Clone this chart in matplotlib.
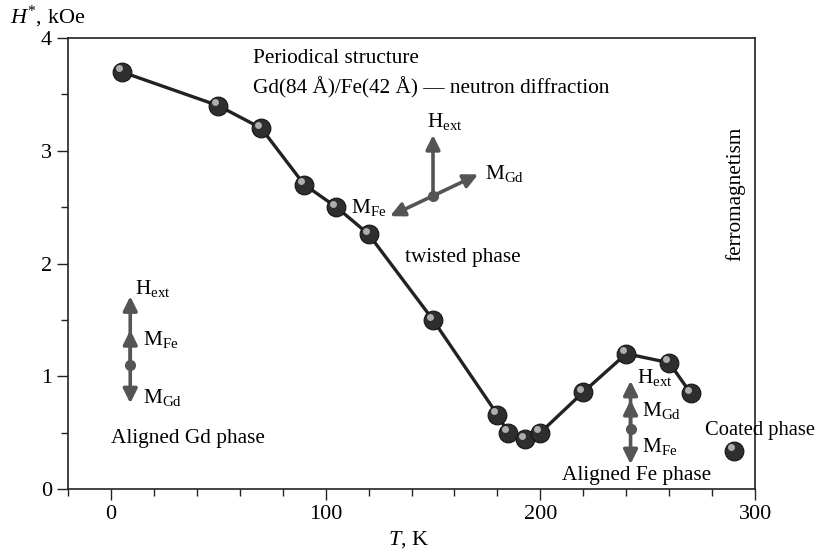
import matplotlib
matplotlib.use("Agg")
import matplotlib.pyplot as plt
import matplotlib.transforms as mtransforms
from matplotlib.ticker import MultipleLocator

plt.rcParams['font.family'] = ['Liberation Serif', 'DejaVu Serif']
plt.rcParams['mathtext.fontset'] = 'custom'
plt.rcParams['mathtext.rm'] = 'Liberation Serif'
plt.rcParams['mathtext.it'] = 'Liberation Serif:italic'

# H*(T) from neutron diffraction
temp = [5, 50, 70, 90, 105, 120, 150, 180, 185, 193, 200, 220, 240, 260, 270]
h_star = [3.70, 3.40, 3.20, 2.70, 2.50, 2.26, 1.50, 0.66, 0.50, 0.44, 0.50, 0.86, 1.20, 1.12, 0.85]
# isolated point in the coated phase
temp_coat = [290]
h_coat = [0.34]

fig = plt.figure(figsize=(8.18, 5.54), dpi=100)
ax = fig.add_axes([0.0831, 0.1173, 0.84, 0.8141])

ax.plot(temp, h_star, '-', color='#222222', lw=2.4, zorder=2)

all_t = temp + temp_coat
all_h = h_star + h_coat
ax.plot(all_t, all_h, 'o', ms=13.5, color='#2e2e2e', mec='#151515', mew=0.8, zorder=3)
hl = ax.transData + mtransforms.ScaledTranslation(-2.2 / 72, 2.4 / 72, fig.dpi_scale_trans)
ax.plot(all_t, all_h, 'o', ms=5, color='#bdbdbd', mec='none', alpha=0.9, transform=hl, zorder=4)

ax.set_xlim(-20, 300)
ax.set_ylim(0, 4)
ax.xaxis.set_major_locator(MultipleLocator(100))
ax.xaxis.set_minor_locator(MultipleLocator(20))
ax.yaxis.set_major_locator(MultipleLocator(1))
ax.yaxis.set_minor_locator(MultipleLocator(0.5))
ax.tick_params(which='both', direction='out', labelsize=16, width=1.0, color='#222222')
ax.tick_params(which='major', length=8)
ax.tick_params(which='minor', length=5)
for s in ax.spines.values():
    s.set_linewidth(1.2)
    s.set_color('#222222')

fig.text(0.012, 0.945, r'$H^{*}$, kOe', fontsize=16, ha='left', va='bottom')
fig.text(0.5, 0.008, r'$T$, K', fontsize=16, ha='center', va='bottom')

fs = 15.3
ax.text(66, 3.82, 'Periodical structure', fontsize=fs, ha='left', va='center')
ax.text(66, 3.56, 'Gd(84 Å)/Fe(42 Å) — neutron diffraction', fontsize=fs, ha='left', va='center')
ax.text(137, 2.05, 'twisted phase', fontsize=fs, ha='left', va='center')
ax.text(0, 0.45, 'Aligned Gd phase', fontsize=fs, ha='left', va='center')
ax.text(210, 0.12, 'Aligned Fe phase', fontsize=fs, ha='left', va='center')
ax.text(276.5, 0.52, 'Coated phase', fontsize=14.8, ha='left', va='center')
ax.text(291, 2.62, 'ferromagnetism', fontsize=fs, ha='center', va='center', rotation=90)

acol = '#555555'
ap = dict(arrowstyle='-|>,head_length=0.85,head_width=0.42', color=acol, lw=2.6, shrinkA=0, shrinkB=0)

# twisted phase vectors
ax.annotate('', xy=(150, 3.14), xytext=(150, 2.60), arrowprops=ap)
ax.annotate('', xy=(171, 2.79), xytext=(150, 2.60), arrowprops=ap)
ax.annotate('', xy=(130, 2.42), xytext=(150, 2.60), arrowprops=ap)
ax.plot([150], [2.60], 'o', ms=7, color=acol, zorder=5)
ax.text(147, 3.26, r'H$_{\mathrm{ext}}$', fontsize=fs, ha='left', va='center')
ax.text(174, 2.80, r'M$_{\mathrm{Gd}}$', fontsize=fs, ha='left', va='center')
ax.text(112, 2.50, r'M$_{\mathrm{Fe}}$', fontsize=fs, ha='left', va='center')

# aligned Gd phase vectors
ax.annotate('', xy=(9, 1.71), xytext=(9, 1.10), arrowprops=ap)
ax.annotate('', xy=(9, 1.41), xytext=(9, 1.10), arrowprops=ap)
ax.annotate('', xy=(9, 0.76), xytext=(9, 1.10), arrowprops=ap)
ax.plot([9], [1.10], 'o', ms=7, color=acol, zorder=5)
ax.text(11, 1.78, r'H$_{\mathrm{ext}}$', fontsize=fs, ha='left', va='center')
ax.text(15, 1.33, r'M$_{\mathrm{Fe}}$', fontsize=fs, ha='left', va='center')
ax.text(15, 0.81, r'M$_{\mathrm{Gd}}$', fontsize=fs, ha='left', va='center')

# aligned Fe phase vectors
ax.annotate('', xy=(242, 0.96), xytext=(242, 0.53), arrowprops=ap)
ax.annotate('', xy=(242, 0.79), xytext=(242, 0.53), arrowprops=ap)
ax.annotate('', xy=(242, 0.22), xytext=(242, 0.53), arrowprops=ap)
ax.plot([242], [0.53], 'o', ms=7, color=acol, zorder=5)
ax.text(245, 0.99, r'H$_{\mathrm{ext}}$', fontsize=fs, ha='left', va='center')
ax.text(247.5, 0.70, r'M$_{\mathrm{Gd}}$', fontsize=fs, ha='left', va='center')
ax.text(247.5, 0.38, r'M$_{\mathrm{Fe}}$', fontsize=fs, ha='left', va='center')

fig.savefig('out.png', dpi=100)
